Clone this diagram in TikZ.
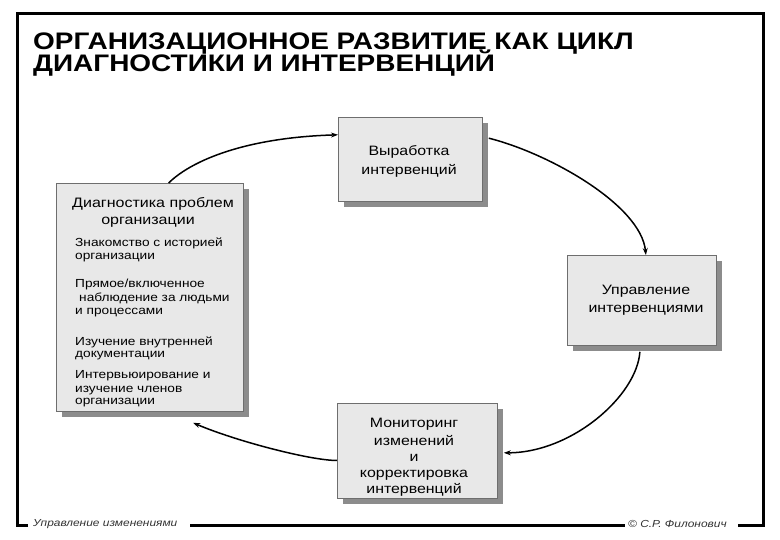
\documentclass[tikz,border=0pt]{standalone}
\usepackage{fontspec}
\setmainfont{Liberation Sans}[FakeStretch=1.17]
\usetikzlibrary{arrows.meta,calc,shadows}
\definecolor{boxfill}{RGB}{232,232,232}
\definecolor{boxline}{RGB}{110,110,110}
\definecolor{shadowgray}{RGB}{140,140,140}
\definecolor{foottext}{RGB}{50,50,50}
\begin{document}
\begin{tikzpicture}[x=1pt,y=-1pt,
  stagebox/.style={draw=boxline, line width=0.8pt, fill=boxfill, rectangle, inner sep=0pt, anchor=north west,
    drop shadow={shadow xshift=6pt, shadow yshift=-6pt, fill=shadowgray, opacity=1}},
  cyc/.style={line width=1.5pt, -{Stealth[length=7pt,width=5pt]}},
  frameline/.style={line width=3pt},
  titletxt/.style={anchor=base west, inner sep=0pt, font=\bfseries\fontsize{23.9}{23.9}\selectfont},
  boxtxt/.style={anchor=base, inner sep=0pt, font=\fontsize{13.6}{16}\selectfont},
  headtxt/.style={anchor=base west, inner sep=0pt, font=\fontsize{13.7}{16}\selectfont},
  itemtxt/.style={anchor=base west, inner sep=0pt, font=\fontsize{11.7}{14}\selectfont},
  foottxt/.style={anchor=west, inner sep=0pt, text=foottext, font=\itshape\fontsize{10.2}{12}\selectfont}]
\useasboundingbox (0,0) rectangle (780,540);

% frame
\draw[frameline] (28,525) -- (17,525) -- (17,14) -- (763,14) -- (763,525) -- (738,525);
\draw[frameline] (190,525) -- (625,525);
\node[foottxt] (footl) at (33,524) {Управление изменениями};
\node[foottxt] (footr) at (628,524) {© С.Р. Филонович};

% title
\node[titletxt] (title1) at (33,50) {ОРГАНИЗАЦИОННОЕ РАЗВИТИЕ КАК ЦИКЛ};
\node[titletxt] (title2) at (33,72) {ДИАГНОСТИКИ И ИНТЕРВЕНЦИЙ};

% boxes
\node[stagebox, minimum width=187pt, minimum height=228pt] (diag) at (56,183) {};
\node[stagebox, minimum width=144pt, minimum height=84pt] (devel) at (338,117) {};
\node[stagebox, minimum width=149pt, minimum height=90pt] (manage) at (567,255) {};
\node[stagebox, minimum width=160pt, minimum height=95pt] (monit) at (337,403) {};

% left box text
\node[headtxt] (dh1) at (72,208) {Диагностика проблем};
\node[headtxt, anchor=base] (dh2) at (148,225) {организации};
\foreach \t/\x/\y [count=\i] in {Знакомство с историей/75/247, организации/75/260,
  {Прямое/включенное}/75/288, наблюдение за людьми/79/302, и процессами/75/315,
  Изучение внутренней/75/345, документации/75/358,
  Интервьюирование и/75/379, изучение членов/75/392, организации/75/405}
  \node[itemtxt] (di\i) at (\x,\y) {\t};

% other box texts
\foreach \t/\y [count=\i] in {Выработка/156, интервенций/175}
  \node[boxtxt] (dv\i) at (409,\y) {\t};
\foreach \t/\y [count=\i] in {Управление/295, интервенциями/313}
  \node[boxtxt] (mg\i) at (646,\y) {\t};
\foreach \t/\y [count=\i] in {Мониторинг/428, изменений/445, и/461, корректировка/477, интервенций/493}
  \node[boxtxt] (mn\i) at (414,\y) {\t};

% cycle arrows
\draw[cyc] ($(diag.north west)!0.6!(diag.north east)$) .. controls +(20,-20) and +(-98,3) ..
  ($(devel.north west)!0.21!(devel.south west)$);
\draw[cyc] ($(devel.north east)!0.25!(devel.south east)+(6,0)$) .. controls +(60,15) and +(-5,-50) ..
  ($(manage.north)+(4,0)$);
\draw[cyc] ($(manage.south)+(-2,6)$) .. controls +(-3,44) and +(68,0) ..
  ($(monit.north east)!0.52!(monit.south east)+(6,0)$);
\draw[cyc] ($(monit.north west)!0.6!(monit.south west)$) .. controls +(-27,0) and +(42,18) ..
  ($(diag.south west)!0.73!(diag.south east)+(0,11)$);
\end{tikzpicture}
\end{document}
